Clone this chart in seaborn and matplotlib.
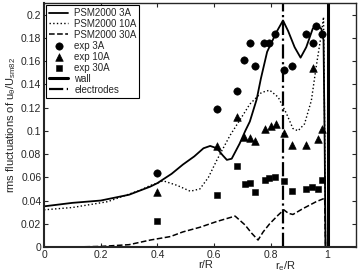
import matplotlib
matplotlib.use("Agg")
import matplotlib.pyplot as plt
import seaborn as sns
import numpy as np
from matplotlib.ticker import FormatStrFormatter, MultipleLocator

# simulation curves (PSM2000)
x_3A = [0, 0.1, 0.2, 0.3, 0.375, 0.4, 0.45, 0.49, 0.53, 0.5625, 0.586, 0.61, 0.63, 0.645, 0.662,
        0.69, 0.71, 0.726, 0.75, 0.765, 0.787, 0.82, 0.843, 0.861, 0.884, 0.905, 0.925, 0.948,
        0.96, 0.978, 0.986, 0.99, 0.993]
y_3A = [0.035, 0.038, 0.040, 0.045, 0.052, 0.055, 0.063, 0.071, 0.078, 0.085, 0.087, 0.085, 0.079,
        0.075, 0.076, 0.089, 0.100, 0.108, 0.127, 0.145, 0.168, 0.185, 0.195, 0.186, 0.172, 0.163,
        0.172, 0.188, 0.191, 0.188, 0.178, 0.09, 0.0]

x_10A = [0, 0.1, 0.224, 0.34, 0.375, 0.40, 0.42, 0.47, 0.516, 0.55, 0.58, 0.61, 0.656, 0.69, 0.726,
         0.767, 0.796, 0.826, 0.855, 0.878, 0.896, 0.919, 0.943, 0.96, 0.978, 0.986, 0.99, 0.993]
y_10A = [0.032, 0.034, 0.039, 0.049, 0.053, 0.055, 0.057, 0.053, 0.048, 0.050, 0.060, 0.075, 0.096,
         0.109, 0.123, 0.133, 0.135, 0.129, 0.115, 0.102, 0.100, 0.106, 0.126, 0.155, 0.183, 0.198,
         0.1, 0.0]

x_30A = [0, 0.1, 0.2, 0.3, 0.375, 0.446, 0.49, 0.55, 0.61, 0.674, 0.709, 0.732, 0.755, 0.773, 0.796,
         0.826, 0.846, 0.862, 0.878, 0.913, 0.96, 0.99, 0.993]
y_30A = [0.0, 0.0, 0.0005, 0.002, 0.006, 0.009, 0.013, 0.017, 0.022, 0.0266, 0.019, 0.012, 0.006,
         0.013, 0.020, 0.0275, 0.032, 0.029, 0.028, 0.033, 0.039, 0.042, 0.0]

# experiments
ex_3A = [0.40, 0.61, 0.68, 0.705, 0.725, 0.745, 0.775, 0.795, 0.815, 0.845, 0.875, 0.925, 0.95, 0.96, 0.98]
ey_3A = [0.064, 0.119, 0.134, 0.161, 0.176, 0.156, 0.176, 0.176, 0.183, 0.152, 0.156, 0.183, 0.176, 0.190, 0.183]

ex_10A = [0.40, 0.61, 0.68, 0.705, 0.725, 0.745, 0.78, 0.80, 0.82, 0.845, 0.875, 0.925, 0.965, 0.98, 0.95]
ey_10A = [0.047, 0.087, 0.112, 0.095, 0.094, 0.091, 0.102, 0.104, 0.106, 0.098, 0.088, 0.088, 0.093, 0.102, 0.154]

ex_30A = [0.40, 0.61, 0.68, 0.71, 0.725, 0.745, 0.78, 0.795, 0.815, 0.845, 0.875, 0.925, 0.945, 0.965, 0.98]
ey_30A = [0.022, 0.045, 0.070, 0.054, 0.055, 0.047, 0.058, 0.059, 0.060, 0.057, 0.048, 0.050, 0.052, 0.050, 0.058]

r_wall = 1.0
r_electrodes = 0.842

sns.set_style("ticks")
plt.rcParams['font.family'] = ['Liberation Sans', 'DejaVu Sans']
plt.rcParams['mathtext.fontset'] = 'custom'
plt.rcParams['mathtext.rm'] = 'Liberation Sans'
plt.rcParams['mathtext.it'] = 'Liberation Sans'

fig = plt.figure(figsize=(3.58, 2.78), dpi=100)
ax = fig.add_axes([0.123, 0.1115, 0.871, 0.8775])

sns.lineplot(x=x_3A, y=y_3A, ax=ax, color='k', lw=1.3, ls='-', sort=False, estimator=None, label='PSM2000 3A')
sns.lineplot(x=x_10A, y=y_10A, ax=ax, color='k', lw=1.0, ls=':', sort=False, estimator=None, label='PSM2000 10A')
sns.lineplot(x=x_30A, y=y_30A, ax=ax, color='k', lw=1.1, ls='--', sort=False, estimator=None, label='PSM2000 30A')
sns.scatterplot(x=ex_3A, y=ey_3A, ax=ax, color='k', marker='o', s=28, edgecolor='k', label='exp 3A')
sns.scatterplot(x=ex_10A, y=ey_10A, ax=ax, color='k', marker='^', s=30, edgecolor='k', label='exp 10A')
sns.scatterplot(x=ex_30A, y=ey_30A, ax=ax, color='k', marker='s', s=22, edgecolor='k', label='exp 30A')
ax.axvline(r_wall, color='k', lw=2.2, label='wall')
ax.axvline(r_electrodes, color='k', lw=1.6, ls='-.', label='electrodes')

ax.set_xlim(0, 1.1)
ax.set_ylim(0, 0.21)
ax.yaxis.set_major_locator(MultipleLocator(0.02))
ax.xaxis.set_major_formatter(FormatStrFormatter('%g'))
ax.yaxis.set_major_formatter(FormatStrFormatter('%g'))
ax.set_xticks([0, 0.2, 0.4, 0.6, 0.8, 1.0])
ax.tick_params(direction='in', length=3, width=0.8, labelsize=7.5, top=True, right=True, pad=2)
for sp in ax.spines.values():
    sp.set_visible(True)
    sp.set_linewidth(1.0)
ax.spines['left'].set_linewidth(1.5)
ax.spines['bottom'].set_linewidth(1.5)

ax.set_ylabel(r'rms fluctuations of u$_\theta$/U$_{sm82}$', fontsize=8, labelpad=2)
ax.text(0.57, -0.052, 'r/R', transform=ax.get_xaxis_transform(), ha='center', va='top', fontsize=8)
ax.text(r_electrodes + 0.01, -0.052, r'r$_e$/R', transform=ax.get_xaxis_transform(), ha='center', va='top', fontsize=8)

h, l = ax.get_legend_handles_labels()
leg = ax.legend(h, l, loc='upper left', fontsize=7, frameon=True, fancybox=False,
                edgecolor='k', framealpha=1, borderpad=0.3, labelspacing=0.1,
                handlelength=2.0, handletextpad=0.6, borderaxespad=0.2)
leg.get_frame().set_linewidth(0.8)

fig.savefig('out.png', dpi=100)
